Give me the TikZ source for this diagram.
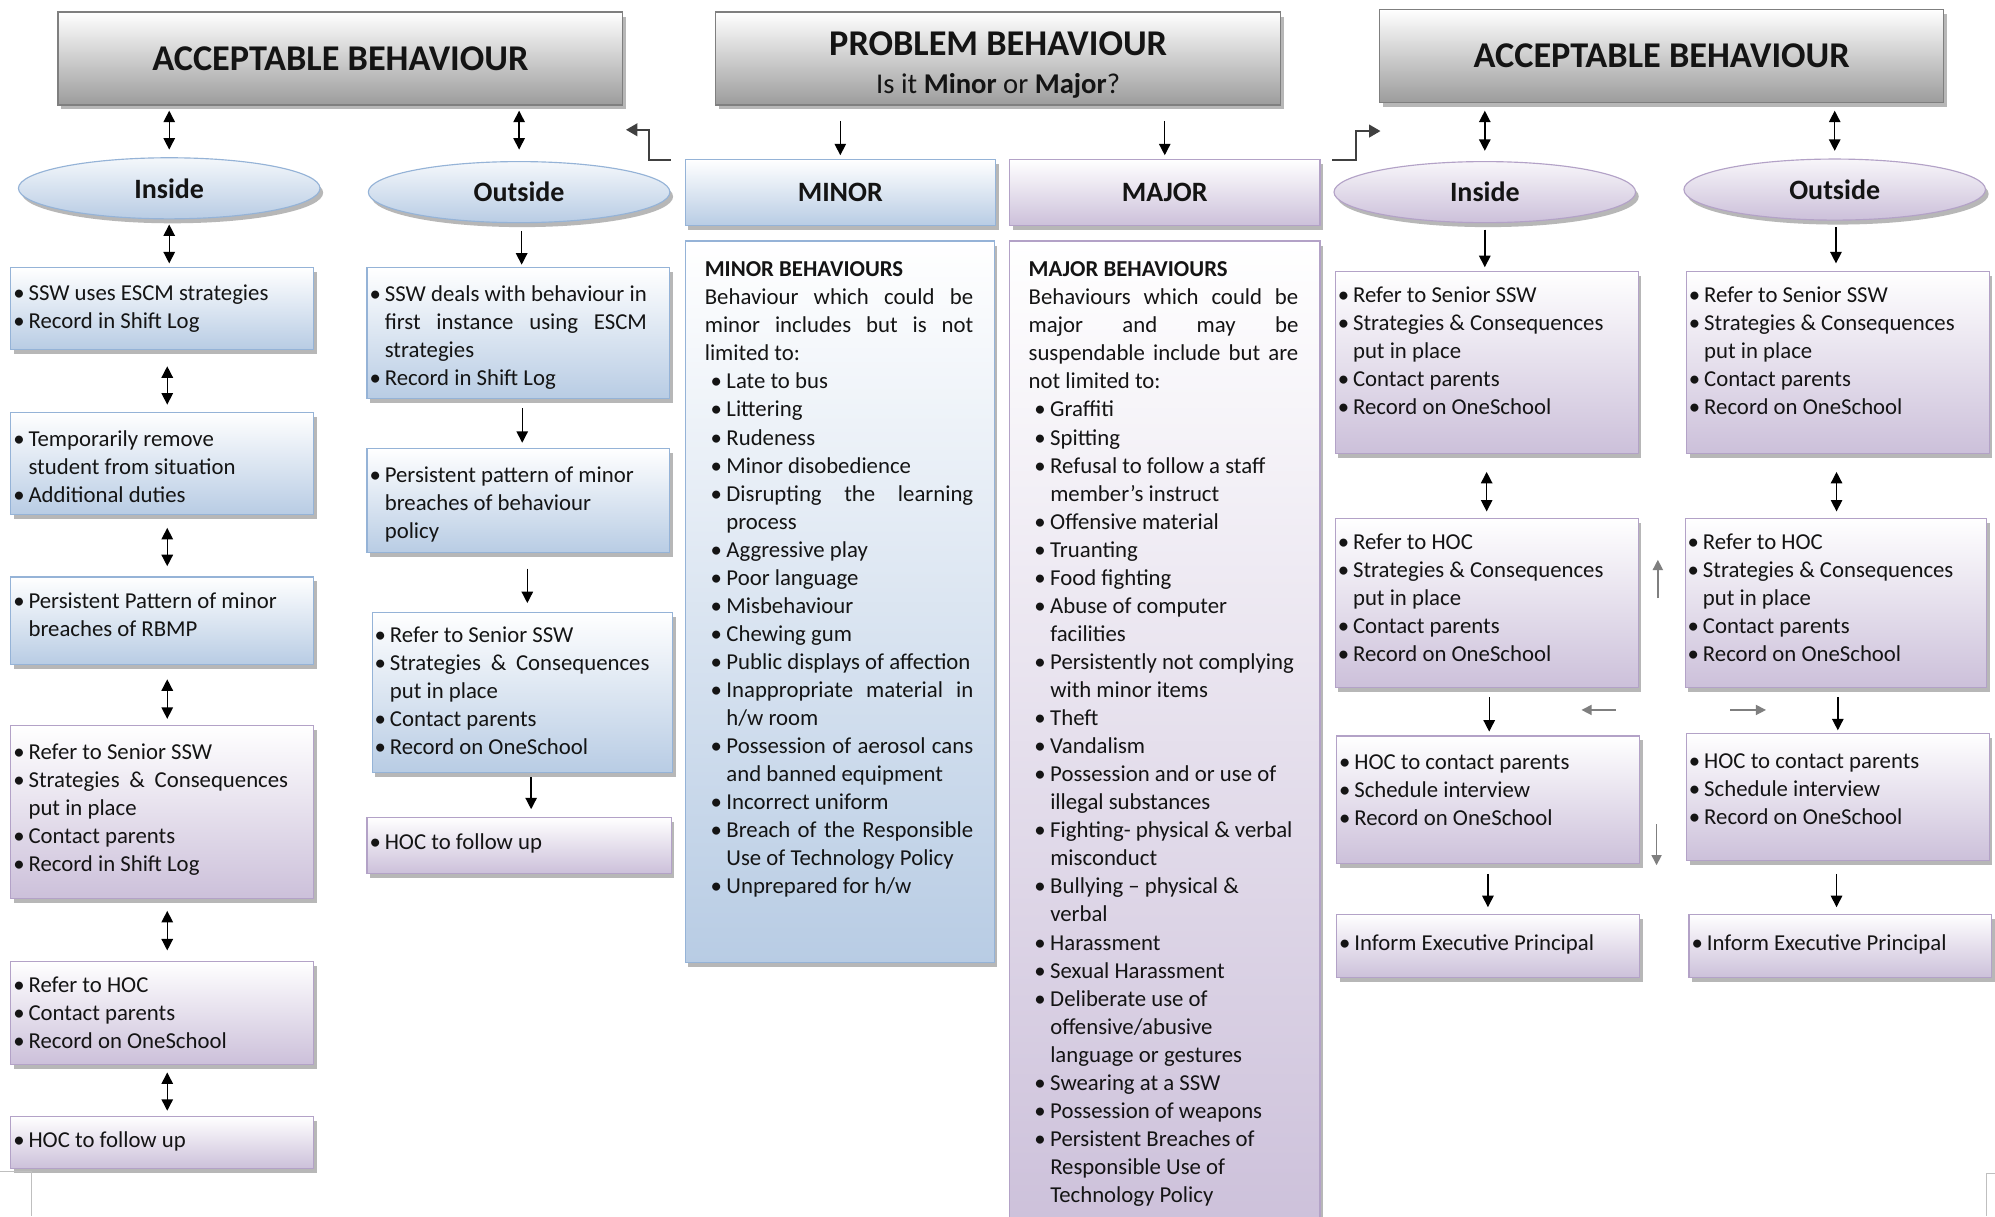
\documentclass[tikz,border=0pt]{standalone}
\usepackage{fontspec}
\setmainfont{Carlito}
\usetikzlibrary{shapes.geometric,arrows.meta,shadows,calc}
\definecolor{bLine}{HTML}{95B3D7}
\definecolor{bFill}{HTML}{B8CCE4}
\definecolor{pLine}{HTML}{B3A2C7}
\definecolor{pFill}{HTML}{CCC0DA}
\definecolor{gLine}{HTML}{7F7F7F}
\definecolor{gFill}{HTML}{9C9C9C}
\definecolor{txt}{HTML}{141414}
\newcommand\bodyf{\fontsize{17.9}{22.05}\selectfont}
\newcommand\itm[1]{\par\noindent\hangindent=12pt\hangafter=1\strut\makebox[12pt][l]{\textbullet}#1}
\newcommand\itmw[1]{\par\noindent\hangindent=17pt\hangafter=1\strut\makebox[17pt][l]{\hspace{4.5pt}\textbullet}#1}
\newcommand\pln[1]{\par\noindent\strut #1}
\newcommand\bxc[4]{\parbox[c][#2pt][t]{#1pt}{\bodyf\vspace*{#3pt}#4}}
\begin{document}
\begin{tikzpicture}[x=1pt,y=-1pt,
  kshd/.style={drop shadow={shadow xshift=2.5pt,shadow yshift=-3.5pt,opacity=0.4,fill=black!70}},
  kbox/.style={anchor=north west,inner xsep=2pt,inner ysep=0pt,line width=0.9pt,text=txt,kshd},
  kblue/.style={kbox,draw=bLine,top color=white,bottom color=bFill},
  kpurp/.style={kbox,draw=pLine,top color=white,bottom color=pFill},
  khdr/.style={anchor=north west,inner sep=0pt,draw=gLine,line width=1pt,top color=white,bottom color=gFill,text=txt,minimum width=444pt,minimum height=73pt,font=\fontsize{28.5}{29}\selectfont\bfseries,kshd},
  ktitle/.style={anchor=north west,inner sep=0pt,line width=0.9pt,text=txt,minimum width=244pt,minimum height=52pt,font=\fontsize{22}{26}\selectfont\bfseries,kshd},
  kell/.style={ellipse,inner sep=0pt,minimum width=237pt,minimum height=48pt,line width=0.9pt,text=txt,font=\fontsize{22}{26}\selectfont\bfseries,kshd},
  kellb/.style={kell,draw=bLine,top color=bFill!15,bottom color=bFill},
  kellp/.style={kell,draw=pLine,top color=pFill!15,bottom color=pFill},
  karr/.style={line width=1.1pt,-{Triangle[width=9pt,length=9pt]}},
  kdarr/.style={line width=1.1pt,{Triangle[width=9pt,length=9pt]}-{Triangle[width=9pt,length=9pt]}},
  kgarr/.style={draw=gLine,line width=1.1pt,-{Triangle[width=8pt,length=8pt]}},
  kelb/.style={draw=black!75,line width=1.6pt,-{Triangle[width=10pt,length=9pt]}},
  kcrop/.style={draw=black!25,line width=0.8pt}]
\useasboundingbox (0,0) rectangle (1568,956);
\clip (0,0) rectangle (1568,956);
\fill[white] (0,0) rectangle (1568,956);

% headers
\node[khdr] (HL) at (45,9) {ACCEPTABLE BEHAVIOUR};
\node[khdr,align=center] (HM) at (562,9) {\rule{0pt}{29pt}PROBLEM BEHAVIOUR\\[1pt]{\fontsize{22.5}{26}\selectfont\mdseries Is it \textbf{Minor} or \textbf{Major}?}};
\node[khdr,minimum width=443pt] (HR) at (1084,7) {ACCEPTABLE BEHAVIOUR};

% ellipses
\node[kellb] (Lin) at (133,148) {Inside};
\node[kellb] (Lout) at (408,151) {Outside};
\node[kellp] (Rin) at (1167,151) {Inside};
\node[kellp] (Rout) at (1442,149) {Outside};

% minor / major titles
\node[ktitle,draw=bLine,top color=white,bottom color=bFill] (MinH) at (538,125) {MINOR};
\node[ktitle,draw=pLine,top color=white,bottom color=pFill] (MajH) at (793,125) {MAJOR};

% left inside column
\node[kblue] (L1) at (8,210) {\bxc{234}{64}{9.9}{\itm{SSW uses ESCM strategies}\itm{Record in Shift Log}}};
\node[kblue] (L2) at (8,324) {\bxc{234}{80}{10.9}{\itm{Temporarily remove\newline student from situation}\itm{Additional duties}}};
\node[kblue] (L3) at (8,453) {\bxc{234}{69}{9.6}{\itm{Persistent Pattern of minor\newline breaches of RBMP}}};
\node[kpurp] (L4) at (8,570) {\bxc{234}{136}{10.9}{\itm{Refer to Senior SSW}\itm{\makebox[204pt][s]{Strategies \& Consequences}\newline put in place}\itm{Contact parents}\itm{Record in Shift Log}}};
\node[kpurp] (L5) at (8,755) {\bxc{234}{81}{8.9}{\itm{Refer to HOC}\itm{Contact parents}\itm{Record on OneSchool}}};
\node[kpurp] (L6) at (8,877) {\bxc{234}{41}{8.9}{\itm{HOC to follow up}}};

% left outside column
\node[kblue] (O1) at (288,210) {\bxc{234}{103}{10.9}{\itm{\makebox[206pt][s]{SSW deals with behaviour in}\newline\makebox[206pt][s]{first instance using ESCM}\newline strategies}\itm{Record in Shift Log}}};
\node[kblue] (O2) at (288,352) {\bxc{234}{82}{11.6}{\itm{Persistent pattern of minor\newline breaches of behaviour\newline policy}}};
\node[kblue] (O3) at (292,481) {\bxc{232}{126}{7.9}{\itm{Refer to Senior SSW}\itm{\makebox[204pt][s]{Strategies \& Consequences}\newline put in place}\itm{Contact parents}\itm{Record on OneSchool}}};
\node[kpurp] (O4) at (288,642) {\bxc{235}{44}{9.9}{\itm{HOC to follow up}}};

% minor list
\node[kblue,inner xsep=15.5pt] (MinL) at (538,189) {\bxc{212}{567}{12.6}{%
\pln{\textbf{MINOR BEHAVIOURS}\newline
\makebox[211pt][s]{Behaviour which could be}\newline
\makebox[211pt][s]{minor includes but is not}\newline
limited to:}%
\itmw{Late to bus}%
\itmw{Littering}%
\itmw{Rudeness}%
\itmw{Minor disobedience}%
\itmw{\makebox[194pt][s]{Disrupting the learning}\newline process}%
\itmw{Aggressive play}%
\itmw{Poor language}%
\itmw{Misbehaviour}%
\itmw{Chewing gum}%
\itmw{Public displays of affection}%
\itmw{\makebox[194pt][s]{Inappropriate material in}\newline h/w room}%
\itmw{\makebox[194pt][s]{Possession of aerosol cans}\newline and banned equipment}%
\itmw{Incorrect uniform}%
\itmw{\makebox[194pt][s]{Breach of the Responsible}\newline Use of Technology Policy}%
\itmw{Unprepared for h/w}}};

% major list
\node[kpurp,inner xsep=15pt] (MajL) at (793,189) {\bxc{214}{785}{12.6}{%
\pln{\textbf{MAJOR BEHAVIOURS}\newline
\makebox[212pt][s]{Behaviours which could be}\newline
\makebox[212pt][s]{major and may be}\newline
\makebox[212pt][s]{suspendable include but are}\newline
not limited to:}%
\itmw{Graffiti}%
\itmw{Spitting}%
\itmw{Refusal to follow a staff\newline member’s instruct}%
\itmw{Offensive material}%
\itmw{Truanting}%
\itmw{Food fighting}%
\itmw{Abuse of computer\newline facilities}%
\itmw{Persistently not complying\newline with minor items}%
\itmw{Theft}%
\itmw{Vandalism}%
\itmw{Possession and or use of\newline illegal substances}%
\itmw{Fighting- physical \& verbal\newline misconduct}%
\itmw{Bullying – physical \&\newline verbal}%
\itmw{Harassment}%
\itmw{Sexual Harassment}%
\itmw{Deliberate use of\newline offensive/abusive\newline language or gestures}%
\itmw{Swearing at a SSW}%
\itmw{Possession of weapons}%
\itmw{Persistent Breaches of\newline Responsible Use of\newline Technology Policy}}};

% right inside column
\node[kpurp] (RI1) at (1049,213) {\bxc{234}{143}{8.9}{\itm{Refer to Senior SSW}\itm{Strategies \& Consequences\newline put in place}\itm{Contact parents}\itm{Record on OneSchool}}};
\node[kpurp] (RI2) at (1049,407) {\bxc{234}{133}{8.9}{\itm{Refer to HOC}\itm{Strategies \& Consequences\newline put in place}\itm{Contact parents}\itm{Record on OneSchool}}};
\node[kpurp] (RI3) at (1050,578) {\bxc{234}{100}{10.9}{\itm{HOC to contact parents}\itm{Schedule interview}\itm{Record on OneSchool}}};
\node[kpurp] (RI4) at (1050,718) {\bxc{234}{50}{12.9}{\itm{Inform Executive Principal}}};

% right outside column
\node[kpurp] (RO1) at (1325,213) {\bxc{234}{143}{8.9}{\itm{Refer to Senior SSW}\itm{Strategies \& Consequences\newline put in place}\itm{Contact parents}\itm{Record on OneSchool}}};
\node[kpurp] (RO2) at (1324,407) {\bxc{233}{133}{8.9}{\itm{Refer to HOC}\itm{Strategies \& Consequences\newline put in place}\itm{Contact parents}\itm{Record on OneSchool}}};
\node[kpurp] (RO3) at (1325,576) {\bxc{234}{100}{11.9}{\itm{HOC to contact parents}\itm{Schedule interview}\itm{Record on OneSchool}}};
\node[kpurp] (RO4) at (1327,718) {\bxc{234}{50}{12.9}{\itm{Inform Executive Principal}}};

% connectors: left inside
\draw[kdarr] ($(HL.south -| Lin.north)+(0,4)$) -- ($(Lin.north)+(0,-6)$);
\draw[kdarr] ($(Lin.south)+(0,4)$) -- ($(Lin.south |- L1.north)+(0,-3)$);
\draw[kdarr] ($(L1.south)+(4,13)$) -- ($(L2.north)+(4,-6)$);
\draw[kdarr] ($(L2.south)+(4,10)$) -- ($(L3.north)+(4,-8)$);
\draw[kdarr] ($(L3.south)+(4,11)$) -- ($(L4.north)+(4,-5)$);
\draw[kdarr] ($(L4.south)+(4,9)$) -- ($(L5.north)+(4,-8)$);
\draw[kdarr] ($(L5.south)+(4,6)$) -- ($(L6.north)+(4,-4)$);
% left outside
\draw[kdarr] ($(HL.south -| Lout.north)+(0,4)$) -- ($(Lout.north)+(0,-9)$);
\draw[karr] ($(Lout.south)+(2,6)$) -- ($(Lout.south |- O1.north)+(2,-2)$);
\draw[karr] ($(O1.south)+(3,7)$) -- ($(O2.north)+(3,-4)$);
\draw[karr] ($(O2.south)+(7,12)$) -- ($(O3.north)+(4,-7)$);
\draw[karr] ($(O3.south)+(7,3)$) -- ($(O4.north)+(9.5,-6)$);
% middle
\draw[karr] ($(HM.south -| MinH.north)+(0,12)$) -- ($(MinH.north)+(0,-3)$);
\draw[karr] ($(HM.south -| MajH.north)+(0,12)$) -- ($(MajH.north)+(0,-3)$);
\draw[kelb] ($(MinH.north west)+(-11,1)$) -| ($(HL.south east)+(20,19)$) -- ($(HL.south east)+(2,19)$);
\draw[kelb] ($(MajH.north east)+(9,1)$) -| ($(HR.south west)+(-18,22)$) -- ($(HR.south west)+(1,22)$);
% right
\draw[kdarr] ($(HR.south -| Rin.north)+(0,6)$) -- ($(Rin.north)+(0,-8)$);
\draw[kdarr] ($(HR.south -| Rout.north)+(0,6)$) -- ($(Rout.north)+(0,-6)$);
\draw[karr] ($(Rin.south)+(0,5)$) -- ($(Rin.south |- RI1.north)+(0,-3)$);
\draw[karr] ($(Rout.south)+(1,5)$) -- ($(Rout.south |- RO1.north)+(1,-6)$);
\draw[kdarr] ($(RI1.south)+(0,14)$) -- ($(RI2.north)+(0,-5)$);
\draw[kdarr] ($(RO1.south)+(-1,14)$) -- ($(RO1.south |- RO2.north)+(-1,-5)$);
\draw[karr] ($(RI2.south)+(2,7)$) -- ($(RI2.south |- RI3.north)+(2,-3)$);
\draw[karr] ($(RO2.south)+(1.5,7)$) -- ($(RO2.south |- RO3.north)+(1.5,-2)$);
\draw[karr] ($(RI3.south)+(0,8)$) -- ($(RI3.south |- RI4.north)+(0,-5)$);
\draw[karr] ($(RO3.south)+(-1,10)$) -- ($(RO3.south |- RO4.north)+(-1,-5)$);

% grey arrows
\coordinate (gA1) at (1303,470); \coordinate (gA2) at (1303,440);
\coordinate (gB1) at (1270,558); \coordinate (gB2) at (1243,558);
\coordinate (gC1) at (1360,558); \coordinate (gC2) at (1388,558);
\coordinate (gD1) at (1302,648); \coordinate (gD2) at (1302,680);
\draw[kgarr] (gA1) -- (gA2);
\draw[kgarr] (gB1) -- (gB2);
\draw[kgarr] (gC1) -- (gC2);
\draw[kgarr] (gD1) -- (gD2);

% crop marks
\draw[kcrop] (0,921) -- (25,921) -- (25,956);
\draw[kcrop] (1568,922) -- (1561,922) -- (1561,956);
\end{tikzpicture}
\end{document}
